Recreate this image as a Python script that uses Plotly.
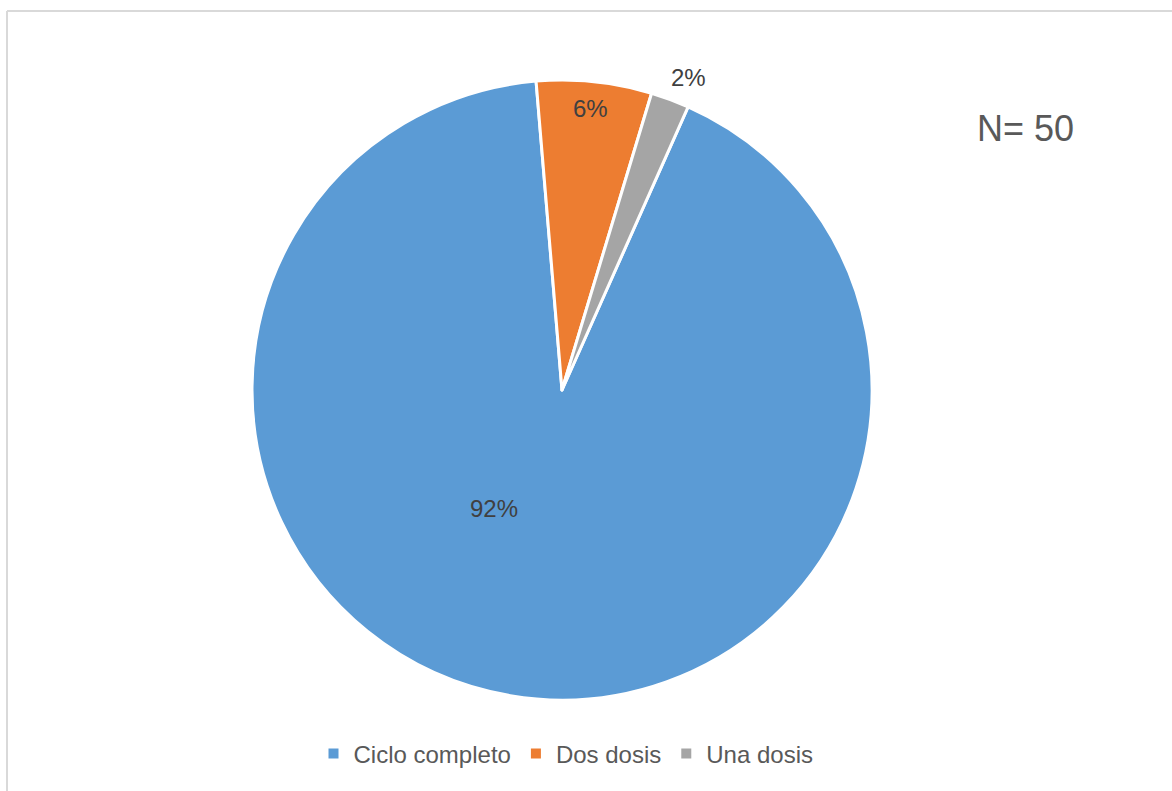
import plotly.graph_objects as go

# Vaccination status of the sample
categories = ["Ciclo completo", "Dos dosis", "Una dosis"]
shares = [92, 6, 2]
colors = ["#5B9BD5", "#ED7D31", "#A5A5A5"]
sample_note = "N= 50"

W, H = 1172, 791
FONT = "Liberation Sans, Arial, sans-serif"

# pie geometry in pixels (centre and radius), converted to paper domain
cx, cy, r = 562, 390, 310

# pixel anchor of each percentage label (best-fit placement)
label_xy = [(494, 508), (590, 108), (688, 77)]

fig = go.Figure(
    go.Pie(
        labels=categories,
        values=shares,
        sort=False,
        direction="clockwise",
        rotation=24,
        marker=dict(colors=colors, line=dict(color="white", width=3)),
        textinfo="none",
        hoverinfo="label+percent",
        domain=dict(
            x=[(cx - r) / W, (cx + r) / W],
            y=[(H - cy - r) / H, (H - cy + r) / H],
        ),
    )
)

annotations = [
    dict(
        text=f"{v}%",
        x=px / W,
        y=(H - py) / H,
        xref="paper",
        yref="paper",
        xanchor="center",
        yanchor="middle",
        showarrow=False,
        font=dict(family=FONT, size=24, color="#404040"),
    )
    for v, (px, py) in zip(shares, label_xy)
]
annotations.append(
    dict(
        text=sample_note,
        x=1025 / W,
        y=(H - 128) / H,
        xref="paper",
        yref="paper",
        xanchor="center",
        yanchor="middle",
        showarrow=False,
        font=dict(family=FONT, size=36, color="#595959"),
    )
)

fig.update_layout(
    width=W,
    height=H,
    margin=dict(l=0, r=0, t=0, b=0),
    paper_bgcolor="white",
    plot_bgcolor="white",
    font=dict(family=FONT, color="#595959"),
    showlegend=True,
    legend=dict(
        orientation="h",
        x=566 / W,
        xanchor="center",
        y=(H - 754) / H,
        yanchor="middle",
        font=dict(family=FONT, size=24, color="#595959"),
        itemsizing="constant",
    ),
    annotations=annotations,
    shapes=[
        dict(type="line", xref="paper", yref="paper",
             x0=7 / W, x1=1.0, y0=1 - 11 / H, y1=1 - 11 / H,
             line=dict(color="#D9D9D9", width=2)),
        dict(type="line", xref="paper", yref="paper",
             x0=7 / W, x1=7 / W, y0=0.0, y1=1 - 11 / H,
             line=dict(color="#D9D9D9", width=2)),
    ],
)

fig.write_html("out.html")
